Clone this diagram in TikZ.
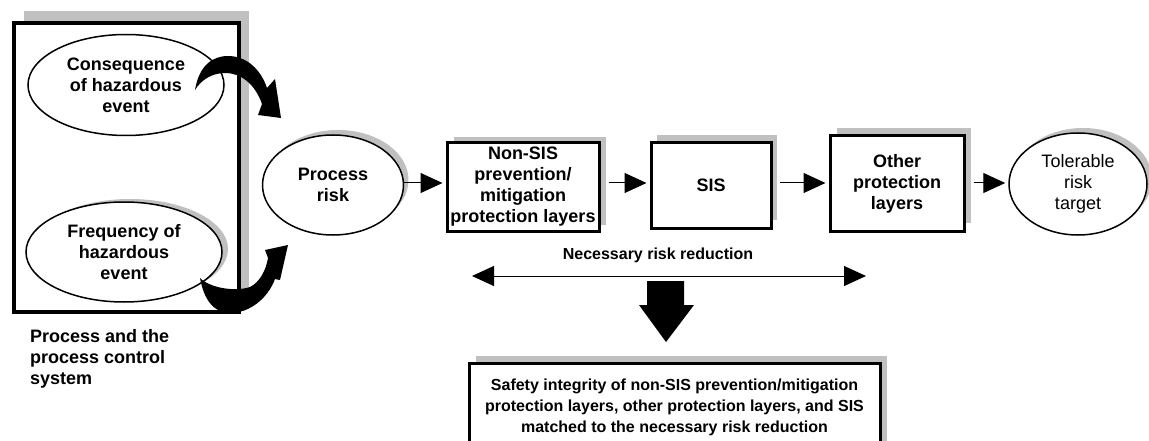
\documentclass[tikz,border=0pt]{standalone}
\usepackage{fontspec}
\setmainfont{Liberation Sans}
\usetikzlibrary{shapes.geometric,arrows.meta,shadows,calc}
\definecolor{shgray}{RGB}{192,192,192}
\begin{document}
\begin{tikzpicture}[x=1pt,y=-1pt,
  big/.style={font=\fontsize{18}{21}\selectfont\bfseries, align=center},
  small/.style={font=\fontsize{16}{21}\selectfont\bfseries, align=center},
  boxnode/.style={draw, line width=3pt, fill=white, inner sep=0pt},
  ellnode/.style={ellipse, draw, line width=1.5pt, fill=white, inner sep=0pt},
  sh/.style 2 args={general shadow={shadow xshift=#1pt, shadow yshift=#2pt, fill=shgray}},
  flow/.style={line width=1pt, -{Triangle[length=22pt,width=20pt]}, shorten >=3pt},
  blockarrow/.style={fill=black},
]
\useasboundingbox (0,0) rectangle (1149,441);

% left process box
\node[boxnode, line width=4pt, sh={10}{12}, minimum width=225pt, minimum height=288pt] (pcs) at (126,167.5) {};
\node[ellnode, big, minimum width=196pt, minimum height=101pt] (cons) at (126,85) {Consequence\\of hazardous\\event};
\node[ellnode, big, sh={6}{3}, minimum width=196pt, minimum height=100pt] (freq) at (124,252) {Frequency of\\hazardous\\event};
\node[big, align=left, anchor=west, inner sep=0pt] (cap) at (30,359) {Process and the\\process control\\system};

% curved block arrows
\fill[blockarrow] (195,90) .. controls (199,66) and (212,56) .. (228,56)
  .. controls (247,56) and (261,70) .. (267,88)
  -- (275,79) -- (281,118) -- (258,115) -- (262,104)
  .. controls (255,84) and (241,73) .. (225,73)
  .. controls (212,73) and (201,80) .. cycle;
\fill[blockarrow] (200,278) .. controls (210,288) and (235,292) .. (250,287)
  .. controls (260,282) and (266,270) .. (268,258)
  -- (265,250) -- (288,245) -- (280,280) -- (275,279)
  .. controls (268,298) and (250,313) .. (230,313)
  .. controls (214,313) and (204,300) .. cycle;

% main chain
\node[ellnode, big, sh={5}{5}, minimum width=141pt, minimum height=100pt] (pr) at (333,185) {Process\\risk};
\node[boxnode, big, sh={7}{6}, minimum width=152pt, minimum height=88pt] (nonsis) at (523,187) {Non-SIS\\prevention/\\mitigation\\protection layers};
\node[boxnode, big, sh={6}{8}, minimum width=120pt, minimum height=85pt] (sis) at (711,185.5) {SIS};
\node[boxnode, big, sh={7}{8}, minimum width=134pt, minimum height=95pt] (other) at (897,183.5) {Other\\protection\\layers};
\node[ellnode, font=\fontsize{18}{21}\selectfont, align=center, sh={5}{5}, minimum width=138pt, minimum height=102pt] (tol) at (1078,184) {Tolerable\\risk\\target};

\coordinate (mid) at (0,183);
\draw[flow] (pr.east |- mid) -- (nonsis.west |- mid);
\draw[flow, shorten <=8pt] (nonsis.east |- mid) -- (sis.west |- mid);
\draw[flow, shorten <=7pt] (sis.east |- mid) -- (other.west |- mid);
\draw[flow, shorten <=8pt] (other.east |- mid) -- (tol.west |- mid);

% necessary risk reduction
\coordinate (nl) at (472,276);
\coordinate (nr) at (866,276);
\draw[line width=1pt, {Triangle[length=22pt,width=20pt]}-{Triangle[length=22pt,width=20pt]}] (nl) -- (nr);
\node[small] (nrr) at (658,255) {Necessary risk reduction};

% big down arrow
\fill[blockarrow] (647,281) -- (684,281) -- (684,305) -- (694,305) -- (666,342) -- (639,305) -- (647,305) -- cycle;

% result box
\node[boxnode, small, sh={7}{8}, minimum width=411pt, minimum height=87pt] (res) at (674.5,407) {Safety integrity of non-SIS prevention/mitigation\\protection layers, other protection layers, and SIS\\matched to the necessary risk reduction};
\end{tikzpicture}
\end{document}
